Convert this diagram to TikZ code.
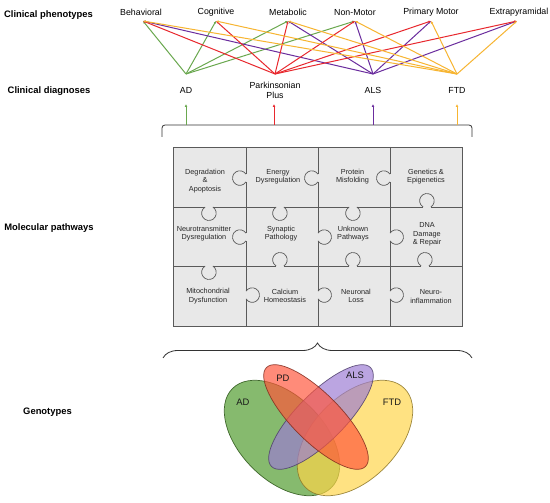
\documentclass[tikz,border=0pt]{standalone}
\usepackage{fontspec}
\setmainfont{Liberation Sans}
\usetikzlibrary{arrows.meta,decorations.pathreplacing}
\definecolor{cgreen}{HTML}{6AA84F}
\definecolor{cred}{HTML}{E8282E}
\definecolor{cpurple}{HTML}{6B2D9E}
\definecolor{corange}{HTML}{F7B531}
\definecolor{cellfill}{HTML}{E8E8E8}
\definecolor{gridcol}{HTML}{5A5A5A}
\definecolor{vAD}{HTML}{4E9A2A}
\definecolor{vPD}{HTML}{FF553A}
\definecolor{vALS}{HTML}{9B7BD3}
\definecolor{vFTD}{HTML}{FFD548}
\begin{document}
\begin{tikzpicture}[x=1pt,y=-1pt,
  rowlabel/.style={font=\fontsize{9.4}{11}\selectfont\bfseries, inner sep=0pt},
  pheno/.style={font=\fontsize{8.8}{10}\selectfont, inner sep=0pt},
  diag/.style={font=\fontsize{8.8}{10.6}\selectfont, align=center, inner sep=0pt},
  cell/.style={font=\fontsize{7.3}{8.4}\selectfont, align=center, inner sep=0pt, text=black!85},
  venntext/.style={font=\fontsize{9.4}{11}\selectfont, inner sep=0pt, text=black!90},
  link/.style={line width=1pt, -{Latex[length=2.6pt,width=2.4pt]}},
  uparrow/.style={line width=0.9pt, -{Latex[length=3pt,width=2.8pt]}},
  gridln/.style={draw=gridcol, line width=0.7pt},
  knobdown/.pic={\fill[cellfill] (-3.8,-1) rectangle (3.8,1);
     \draw[gridln] (3.8,0) arc[start angle=-58,end angle=238,radius=7.3];},
  knobup/.pic={\fill[cellfill] (-3.8,-1) rectangle (3.8,1);
     \draw[gridln] (3.8,0) arc[start angle=58,end angle=-238,radius=7.3];},
  knobright/.pic={\fill[cellfill] (-1,-3.8) rectangle (1,3.8);
     \draw[gridln] (0,-3.8) arc[start angle=-148,end angle=148,radius=7.3];},
  knobleft/.pic={\fill[cellfill] (-1,-3.8) rectangle (1,3.8);
     \draw[gridln] (0,-3.8) arc[start angle=-32,end angle=-328,radius=7.3];},
]
\fill[white] (0,0) rectangle (550,503);
\useasboundingbox (0,0) rectangle (550,503);

% row labels
\node[rowlabel] (lPhen) at (48.5,15) {Clinical phenotypes};
\node[rowlabel] (lDiag) at (49,91) {Clinical diagnoses};
\node[rowlabel] (lMol)  at (49,228) {Molecular pathways};
\node[rowlabel] (lGen)  at (47.5,412) {Genotypes};

% phenotypes
\node[pheno] (tBeh) at (141,12.5) {Behavioral};
\node[pheno] (tCog) at (216,12.5) {Cognitive};
\node[pheno] (tMet) at (288,12.5) {Metabolic};
\node[pheno] (tNon) at (355,12.5) {Non-Motor};
\node[pheno] (tPri) at (431,12.5) {Primary Motor};
\node[pheno] (tExt) at (519,12.5) {Extrapyramidal};
\coordinate (pBeh) at (143,21);
\coordinate (pCog) at (216,21);
\coordinate (pMet) at (288,21);
\coordinate (pNon) at (355,21);
\coordinate (pPri) at (431,21);
\coordinate (pExt) at (517,21);

% diagnoses
\coordinate (dAD)  at (186,74);
\coordinate (dPP)  at (275,74);
\coordinate (dALS) at (373,74);
\coordinate (dFTD) at (457,74);
\node[diag] (tAD)  at (186,90) {AD};
\node[diag] (tPP)  at (275,90.5) {Parkinsonian\\Plus};
\node[diag] (tALS) at (373,90) {ALS};
\node[diag] (tFTD) at (457,90) {FTD};

% links
\foreach \p in {pBeh,pCog,pMet,pNon} \draw[link,cgreen] (dAD) -- (\p);
\foreach \p in {pBeh,pMet,pNon,pPri,pExt} \draw[link,cpurple] (dALS) -- (\p);
\foreach \p in {pBeh,pCog,pMet,pNon,pPri,pExt} \draw[link,cred] (dPP) -- (\p);
\foreach \p in {pBeh,pCog,pMet,pNon,pPri,pExt} \draw[link,corange] (dFTD) -- (\p);

% top bracket and arrows
\draw[line width=0.8pt, rounded corners=3pt, black!80] (162,137) -- (162,125) -- (472,125) -- (472,137);
\coordinate (bAD) at (186,125);  \coordinate (aAD) at (186,104);
\coordinate (bPP) at (274,125);  \coordinate (aPP) at (274,104);
\coordinate (bALS) at (373,125); \coordinate (aALS) at (373,104);
\coordinate (bFTD) at (457,125); \coordinate (aFTD) at (457,104);
\draw[uparrow,cgreen] (bAD) -- (aAD);
\draw[uparrow,cred] (bPP) -- (aPP);
\draw[uparrow,cpurple] (bALS) -- (aALS);
\draw[uparrow,corange] (bFTD) -- (aFTD);

% puzzle grid
\fill[cellfill] (173,147) rectangle (462,326);
\draw[gridln] (173,147) rectangle (462,326);
\foreach \x in {246,318,390} \draw[gridln] (\x,147) -- (\x,326);
\foreach \y in {207,266} \draw[gridln] (173,\y) -- (462,\y);
% knobs on vertical lines
\pic at (246,178) {knobleft};
\pic at (246,237) {knobleft};
\pic at (246,295) {knobright};
\pic at (318,178) {knobleft};
\pic at (318,237) {knobright};
\pic at (318,295) {knobright};
\pic at (390,178) {knobleft};
\pic at (390,237) {knobright};
\pic at (390,295) {knobright};
% knobs on horizontal lines
\pic at (209,207) {knobdown};
\pic at (280,207) {knobdown};
\pic at (353,207) {knobdown};
\pic at (427,207) {knobup};
\pic at (209,266) {knobdown};
\pic at (280,266) {knobup};
\pic at (353,266) {knobup};
\pic at (425,266) {knobup};

% cell texts
\node[cell] (c11) at (205,181) {Degradation\\\&\\Apoptosis};
\node[cell] (c12) at (278,176.5) {Energy\\Dysregulation};
\node[cell] (c13) at (352.5,176.5) {Protein\\Misfolding};
\node[cell] (c14) at (426,176.5) {Genetics \&\\Epigenetics};
\node[cell] (c21) at (204,233.5) {Neurotransmitter\\Dysregulation};
\node[cell] (c22) at (281,233.5) {Synaptic\\Pathology};
\node[cell] (c23) at (353,233.5) {Unknown\\Pathways};
\node[cell] (c24) at (427,234.5) {DNA\\Damage\\\& Repair};
\node[cell] (c31) at (208,296) {Mitochondrial\\Dysfunction};
\node[cell] (c32) at (285,296) {Calcium\\Homeostasis};
\node[cell] (c33) at (356,296) {Neuronal\\Loss};
\node[cell] (c34) at (431,296.5) {Neuro-\\inflammation};

% bottom brace
\draw[decorate, decoration={brace, amplitude=15pt}, line width=0.8pt, black!80] (163,358) -- (472,358);

% Venn
\begin{scope}[fill opacity=0.68, draw opacity=0.85, line width=0.7pt]
\filldraw[fill=vAD, draw=vAD!55!black, shift={(282,438)}, rotate=-45] (0,0) ellipse[x radius=70, y radius=42];
\filldraw[fill=vFTD, draw=vFTD!55!black, shift={(355,438)}, rotate=45] (0,0) ellipse[x radius=70, y radius=42];
\filldraw[fill=vALS, draw=vALS!50!black, shift={(321,417)}, rotate=45] (0,0) ellipse[x radius=70, y radius=24];
\filldraw[fill=vPD, draw=vPD!50!black, shift={(316,417)}, rotate=-45] (0,0) ellipse[x radius=70, y radius=24];
\end{scope}
\node[venntext] (vtAD)  at (243,402) {AD};
\node[venntext] (vtPD)  at (283,378) {PD};
\node[venntext] (vtALS) at (355,375) {ALS};
\node[venntext] (vtFTD) at (392,402) {FTD};
\end{tikzpicture}
\end{document}
